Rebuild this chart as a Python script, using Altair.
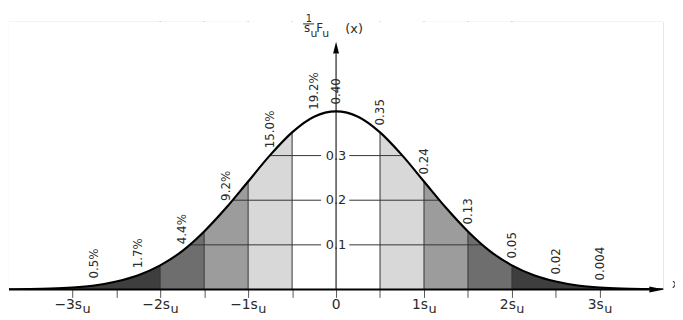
import altair as alt
import pandas as pd

# ---- data ----
curve_x = [-3.75, -3.5, -3.25, -3.0, -2.75, -2.5, -2.25, -2.0, -1.75, -1.5, -1.25, -1.0,
           -0.75, -0.5, -0.25, 0.0, 0.25, 0.5, 0.75, 1.0, 1.25, 1.5, 1.75, 2.0, 2.25,
           2.5, 2.75, 3.0, 3.25, 3.5, 3.75]
curve_y = [0.0004, 0.0009, 0.002, 0.0044, 0.009, 0.018, 0.032, 0.054, 0.086, 0.130, 0.183,
           0.242, 0.301, 0.352, 0.387, 0.399, 0.387, 0.352, 0.301, 0.242, 0.183, 0.130,
           0.086, 0.054, 0.032, 0.018, 0.009, 0.0044, 0.002, 0.0009, 0.0004]

band_lo = [-3.75, -2.0, -1.5, -1.0, 0.5, 1.0, 1.5, 2.0]
band_hi = [-2.0, -1.5, -1.0, -0.5, 1.0, 1.5, 2.0, 3.75]
band_level = [4, 3, 2, 1, 1, 2, 3, 4]

divider_x = [-2.0, -1.5, -1.0, -0.5, 0.5, 1.0, 1.5, 2.0]

grid_levels = [0.1, 0.2, 0.3]
grid_labels = ["0.1", "0.2", "0.3"]

pct_x = [-2.75, -2.25, -1.75, -1.25, -0.75, -0.25]
pct_labels = ["0.5%", "1.7%", "4.4%", "9.2%", "15.0%", "19.2%"]

val_x = [0.0, 0.5, 1.0, 1.5, 2.0, 2.5, 3.0]
val_labels = ["0.40", "0.35", "0.24", "0.13", "0.05", "0.02", "0.004"]

tick_values = [-3, -2.5, -2, -1.5, -1, -0.5, 0, 0.5, 1, 1.5, 2, 2.5, 3]
label_values = [-3, -2, -1, 0, 1, 2, 3]
label_main = ["\u22123s", "\u22122s", "\u22121s", "0", "1s", "2s", "3s"]
label_sub = ["u", "u", "u", "", "u", "u", "u"]

# ---- tables ----
curve_df = pd.DataFrame({"x": curve_x, "y": curve_y})
mask_df = curve_df.assign(top=0.6)
lookup = dict(zip(curve_x, curve_y))
band_df = pd.DataFrame({"lo": band_lo, "hi": band_hi, "level": band_level})
div_df = pd.DataFrame({"x": divider_x})
seg_rows = []
for lv in grid_levels:
    seg_rows.append({"x": -2.0, "x2": -0.17, "y": lv})
    seg_rows.append({"x": 0.15, "x2": 2.0, "y": lv})
grid_df = pd.DataFrame(seg_rows)
glab_df = pd.DataFrame({"x": [0.0] * len(grid_levels), "y": grid_levels, "t": grid_labels})
pct_df = pd.DataFrame({"x": pct_x, "y": [lookup[v] for v in pct_x], "t": pct_labels})
val_df = pd.DataFrame({"x": val_x, "y": [lookup[v] for v in val_x], "t": val_labels})
lab_df = pd.DataFrame({"x": label_values, "main": label_main, "sub": label_sub,
                       "y": [-0.0354] * len(label_values),
                       "ys": [-0.0443] * len(label_values)})

FONT = "DejaVu Sans"
TXT = "#2a2a2a"

xs = alt.Scale(domain=[-3.72, 3.72], nice=False, zero=False)
ys = alt.Scale(domain=[0, 0.6], nice=False, zero=False)
ax = alt.Axis(values=tick_values, labels=False, domain=False, grid=False, tickSize=8,
              tickColor="#555", tickWidth=1, title=None)


def X(f):
    return alt.X(f, type="quantitative", scale=xs, axis=ax)


def Y(f):
    return alt.Y(f, type="quantitative", scale=ys, axis=None)


bands = alt.Chart(band_df).mark_rect(clip=True).encode(
    x=X("lo"), x2="hi", y=alt.value(271), y2=alt.value(0),
    color=alt.Color("level:O", legend=None,
                    scale=alt.Scale(domain=[1, 2, 3, 4],
                                    range=["#d8d8d8", "#9c9c9c", "#6e6e6e", "#3e3e3e"])))

dividers = alt.Chart(div_df).mark_rule(color="#333", strokeWidth=1).encode(
    x=X("x"), y=alt.value(271), y2=alt.value(0))

grid = alt.Chart(grid_df).mark_rule(color="#333", strokeWidth=1).encode(
    x=X("x"), x2="x2", y=Y("y"))

mask = alt.Chart(mask_df).mark_area(color="white", opacity=1, interpolate="monotone",
                                    clip=True).encode(
    x=X("x"), y=Y("y"), y2="top")

yaxis_df = pd.DataFrame({"x": [0.0], "y": [0.0], "y2": [0.529]})
yaxis = alt.Chart(yaxis_df).mark_rule(color="#222", strokeWidth=1.2).encode(
    x=X("x"), y=Y("y"), y2="y2")

glabels = alt.Chart(glab_df).mark_text(font=FONT, fontSize=13, color=TXT,
                                       baseline="middle", align="center").encode(
    x=X("x"), y=Y("y"), text="t")

line = alt.Chart(curve_df).mark_line(color="black", strokeWidth=2.2, interpolate="monotone",
                                     clip=True).encode(x=X("x"), y=Y("y"))

base_df = pd.DataFrame({"x": [-3.72], "x2": [3.56], "y": [0.0]})
baseline = alt.Chart(base_df).mark_rule(color="black", strokeWidth=2).encode(
    x=X("x"), x2="x2", y=Y("y"))

xarrow = alt.Chart(pd.DataFrame({"x": [3.647], "y": [0.0]})).mark_point(
    shape="M -1 -0.4 L 1 0 L -1 0.4 Z", size=225, filled=True, color="black",
    opacity=1, strokeWidth=0).encode(x=X("x"), y=Y("y"))
yarrow = alt.Chart(pd.DataFrame({"x": [0.0], "y": [0.542]})).mark_point(
    shape="M -0.5 1 L 0 -1 L 0.5 1 Z", size=144, filled=True, color="black",
    opacity=1, strokeWidth=0).encode(x=X("x"), y=Y("y"))

pct = alt.Chart(pct_df).mark_text(font=FONT, fontSize=12, color=TXT, angle=270,
                                  align="left", baseline="middle", dx=7).encode(
    x=X("x"), y=Y("y"), text="t")
vals = alt.Chart(val_df).mark_text(font=FONT, fontSize=12, color=TXT, angle=270,
                                   align="left", baseline="middle", dx=7).encode(
    x=X("x"), y=Y("y"), text="t")

# x tick labels with subscript u
lab = alt.Chart(lab_df)
neg_main = lab.transform_filter("datum.x < 0").mark_text(
    font=FONT, fontSize=14, color=TXT, align="right", dx=9.8).encode(
    x=X("x"), y=Y("y"), text="main")
neg_sub = lab.transform_filter("datum.x < 0").mark_text(
    font=FONT, fontSize=13, color=TXT, align="left", dx=10.3).encode(
    x=X("x"), y=Y("ys"), text="sub")
pos_main = lab.transform_filter("datum.x > 0").mark_text(
    font=FONT, fontSize=14, color=TXT, align="right", dx=4).encode(
    x=X("x"), y=Y("y"), text="main")
pos_sub = lab.transform_filter("datum.x > 0").mark_text(
    font=FONT, fontSize=13, color=TXT, align="left", dx=4.5).encode(
    x=X("x"), y=Y("ys"), text="sub")
zero_main = lab.transform_filter("datum.x == 0").mark_text(
    font=FONT, fontSize=14, color=TXT, align="center").encode(
    x=X("x"), y=Y("y"), text="main")


def ann(text, x, y, size, align="left", baseline="alphabetic"):
    return alt.Chart(pd.DataFrame({"x": [x], "y": [y]})).mark_text(
        text=text, font=FONT, fontSize=size, color=TXT, align=align,
        baseline=baseline).encode(x=X("x"), y=Y("y"))


frac_df = pd.DataFrame({"x": [-0.375], "x2": [-0.25], "y": [0.595]})
frac = alt.Chart(frac_df).mark_rule(color=TXT, strokeWidth=1).encode(
    x=X("x"), x2="x2", y=Y("y"))

title_parts = [
    ann("1", -0.31, 0.6, 10, align="center"),
    frac,
    ann("s", -0.33, 0.577, 12, align="center"),
    ann("u", -0.29, 0.566, 11),
    ann("F", -0.225, 0.577, 12),
    ann("u", -0.158, 0.566, 11),
    ann("(x)", 0.105, 0.575, 13),
    ann("x", 3.82, 0.004, 12),
]

chart = alt.layer(bands, dividers, grid, mask, yaxis, glabels, line, baseline, xarrow,
                  yarrow, pct, vals, neg_main, neg_sub, pos_main, pos_sub, zero_main,
                  *title_parts).properties(
    width=662, height=271,
    autosize=alt.AutoSizeParams(type="none"),
    padding={"left": 1, "top": 12, "right": 12, "bottom": 26},
    background="white",
).configure_view(stroke=None)

chart.save("out.html", embed_options={"renderer": "svg", "actions": False})
